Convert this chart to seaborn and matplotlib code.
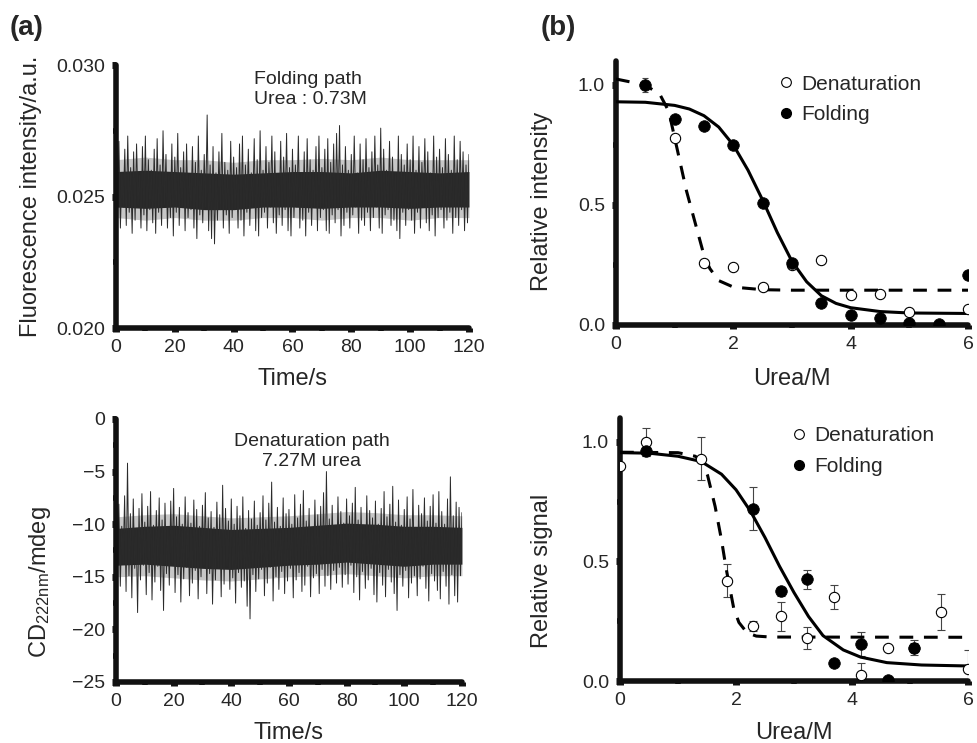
import numpy as np
import matplotlib.pyplot as plt
import seaborn as sns
from matplotlib.lines import Line2D
from matplotlib.ticker import FormatStrFormatter, MultipleLocator

# ---------------- (a) raw traces ----------------
# spikes read roughly once per second: upper / lower excursion of the trace
time_s = np.arange(0, 121)
band_t = np.arange(0, 121, 10)

# fluorescence, in units of 1e-3 a.u.
fl_hi = [26.3, 27.1, 25.9, 26.8, 27.3, 26.1, 26.7, 27.0, 25.8, 26.9,
         27.3, 26.4, 26.0, 26.8, 27.2, 26.2, 27.5, 26.6, 25.9, 27.0,
         26.5, 27.4, 26.1, 26.7, 27.0, 25.8, 26.9, 26.3, 27.3, 26.0,
         26.6, 28.1, 26.2, 26.9, 25.9, 26.7, 27.4, 26.3, 26.0, 27.1,
         26.5, 26.1, 27.0, 27.3, 26.2, 26.8, 25.9, 27.2, 26.4, 27.5,
         26.0, 26.9, 26.3, 27.3, 26.7, 25.8, 27.1, 26.5, 27.4, 26.1,
         26.8, 26.2, 27.3, 25.9, 26.7, 27.2, 26.4, 26.0, 26.9, 27.3,
         26.1, 26.8, 27.2, 26.3, 27.0, 27.4, 27.7, 26.2, 26.9, 26.0,
         26.6, 27.3, 25.9, 27.0, 26.4, 27.2, 26.1, 26.7, 27.3, 26.2,
         27.6, 26.8, 26.0, 27.1, 26.5, 25.9, 27.3, 26.6, 26.2, 27.0,
         26.4, 27.3, 26.0, 26.9, 26.3, 27.2, 26.7, 25.9, 27.3, 26.5,
         26.8, 26.1, 27.2, 26.6, 26.0, 27.3, 26.4, 27.1, 26.7, 26.2,
         26.6]
fl_lo = [24.3, 23.8, 24.6, 23.9, 24.4, 23.6, 24.1, 24.7, 23.8, 24.3,
         23.7, 24.5, 24.0, 23.6, 24.4, 23.9, 24.7, 23.8, 24.2, 23.5,
         24.4, 23.9, 24.6, 23.7, 24.2, 24.5, 23.8, 23.4, 24.3, 24.0,
         24.6, 23.7, 23.4, 23.2, 24.1, 24.5, 23.8, 24.3, 23.6, 24.2,
         24.5, 23.8, 24.1, 23.5, 24.4, 23.9, 24.6, 23.7, 23.5, 24.2,
         24.4, 23.8, 24.6, 24.0, 23.6, 24.3, 23.9, 24.5, 23.7, 23.5,
         24.2, 24.6, 23.8, 24.1, 23.5, 24.4, 23.9, 24.6, 23.7, 24.2,
         24.5, 23.7, 23.6, 24.3, 24.0, 24.5, 23.5, 23.9, 24.4, 23.8,
         24.3, 24.6, 23.6, 24.1, 23.9, 24.4, 23.7, 24.2, 24.6, 23.8,
         23.6, 24.3, 24.5, 23.9, 24.1, 23.7, 23.4, 24.4, 23.9, 24.5,
         24.1, 23.6, 24.4, 23.8, 24.6, 24.0, 23.7, 24.3, 23.5, 24.2,
         24.5, 23.8, 24.1, 24.4, 23.6, 24.2, 23.9, 24.5, 23.7, 24.0,
         24.3]
# dense black core and the grey fringe around it, every 10 s
fl_core_hi = [25.95, 26.0, 25.95, 25.9, 25.85, 25.9, 25.95, 25.95, 25.9, 26.0, 25.95, 25.9, 25.95]
fl_core_lo = [24.6, 24.55, 24.6, 24.5, 24.5, 24.6, 24.6, 24.55, 24.6, 24.6, 24.55, 24.6, 24.6]
fl_fringe_hi = [26.4, 26.5, 26.4, 26.4, 26.3, 26.4, 26.4, 26.45, 26.4, 26.5, 26.4, 26.4, 26.4]
fl_fringe_lo = [24.2, 24.1, 24.2, 24.1, 24.1, 24.2, 24.2, 24.1, 24.2, 24.2, 24.1, 24.2, 24.2]

# CD at 222 nm, mdeg
cd_hi = [-9.5, -8.1, -10.2, -7.3, -4.2, -9.0, -7.6, -10.4, -8.5, -7.1,
         -9.8, -8.3, -6.9, -10.1, -8.7, -7.5, -9.6, -8.0, -10.3, -7.8,
         -6.6, -9.3, -8.4, -10.0, -7.4, -8.9, -9.9, -7.7, -8.6, -10.2,
         -8.2, -7.0, -9.4, -8.8, -10.3, -7.9, -9.1, -6.3, -8.5, -9.7,
         -7.6, -10.0, -8.3, -9.2, -7.4, -10.4, -8.7, -9.5, -7.8, -10.1,
         -8.9, -7.3, -9.6, -8.0, -6.0, -9.8, -8.4, -10.2, -7.5, -9.0,
         -8.6, -10.0, -7.2, -9.4, -8.1, -6.8, -9.7, -8.5, -10.3, -7.7,
         -9.1, -8.3, -7.0, -5.0, -9.5, -8.2, -10.1, -7.4, -8.8, -9.9,
         -7.6, -9.2, -8.0, -6.5, -9.6, -8.4, -10.2, -7.3, -8.7, -9.4,
         -7.8, -10.0, -8.5, -6.9, -9.3, -8.1, -6.4, -9.8, -7.7, -10.1,
         -8.6, -7.4, -9.5, -6.7, -10.3, -8.2, -9.0, -7.5, -9.7, -8.3,
         -7.2, -9.9, -6.9, -8.8, -10.0, -7.6, -5.5, -9.2, -7.9, -8.4,
         -8.9]
cd_lo = [-14.5, -15.9, -13.8, -16.4, -14.9, -17.0, -14.2, -18.4, -15.3, -13.9,
         -16.7, -14.6, -17.2, -15.5, -14.0, -16.3, -18.2, -14.7, -15.8, -13.7,
         -16.5, -14.8, -17.4, -15.2, -14.1, -16.8, -15.6, -14.4, -17.1, -15.0,
         -13.9, -16.6, -14.7, -17.6, -15.3, -14.2, -16.9, -15.7, -14.0, -16.2,
         -15.1, -17.5, -14.6, -16.0, -15.4, -17.8, -19.0, -14.8, -16.4, -15.2,
         -14.3, -16.8, -15.6, -14.1, -17.3, -15.0, -16.2, -14.5, -16.6, -15.4,
         -14.2, -17.0, -15.3, -14.6, -16.4, -15.8, -14.0, -16.9, -15.1, -14.7,
         -16.6, -14.3, -15.9, -14.9, -16.2, -14.4, -15.6, -14.1, -16.0, -14.8,
         -15.7, -13.9, -16.5, -15.0, -17.2, -14.5, -16.1, -15.3, -14.2, -16.7,
         -17.4, -14.6, -15.8, -16.9, -14.3, -15.5, -16.6, -18.2, -14.8, -15.9,
         -14.4, -17.0, -15.6, -14.9, -16.8, -15.2, -14.0, -16.1, -17.3, -14.7,
         -15.4, -16.3, -17.1, -14.5, -15.9, -17.6, -14.8, -16.8, -17.4, -14.9,
         -15.0]
cd_core_hi = [-10.4, -10.2, -10.1, -10.3, -10.5, -10.4, -10.3, -10.1, -9.9, -10.0, -10.2, -10.2, -10.3]
cd_core_lo = [-13.9, -13.8, -14.0, -14.2, -14.3, -14.1, -13.9, -13.8, -13.6, -13.8, -14.0, -13.8, -13.8]
cd_fringe_hi = [-9.3, -9.1, -9.0, -9.2, -9.4, -9.3, -9.2, -9.0, -8.8, -8.9, -9.1, -9.1, -9.2]
cd_fringe_lo = [-15.0, -14.9, -15.1, -15.3, -15.4, -15.2, -15.0, -14.9, -14.7, -14.9, -15.1, -14.9, -14.9]

# ---------------- (b) transition curves ----------------
# relative fluorescence intensity
int_fold_x = [0.5, 1.0, 1.5, 2.0, 2.5, 3.0, 3.5, 4.0, 4.5, 5.0, 5.5, 6.0]
int_fold_y = [1.0, 0.86, 0.83, 0.75, 0.51, 0.26, 0.09, 0.04, 0.03, 0.01, 0.005, 0.21]
int_fold_err = [0.03, 0.01, 0.01, 0.01, 0.01, 0.01, 0.01, 0.01, 0.01, 0.01, 0.01, 0.01]
int_den_x = [1.0, 1.5, 2.0, 2.5, 3.0, 3.5, 4.0, 4.5, 5.0, 6.0]
int_den_y = [0.78, 0.26, 0.24, 0.16, 0.25, 0.27, 0.125, 0.13, 0.055, 0.065]
int_den_err = [0.015, 0.015, 0.015, 0.015, 0.015, 0.015, 0.015, 0.015, 0.015, 0.015]
# fitted curves, points
int_fold_fit_x = [0, 0.5, 1.0, 1.25, 1.5, 1.75, 2.0, 2.25, 2.5, 2.75, 3.0, 3.25, 3.5, 3.75, 4.0, 4.5, 5.0, 5.5, 6.0]
int_fold_fit_y = [0.93, 0.928, 0.915, 0.90, 0.872, 0.825, 0.75, 0.645, 0.52, 0.385, 0.265, 0.18, 0.122, 0.09,
                  0.072, 0.056, 0.05, 0.049, 0.048]
int_den_fit_x = [0, 0.5, 0.75, 0.9, 1.0, 1.1, 1.2, 1.3, 1.4, 1.5, 1.6, 1.75, 2.0, 2.5, 3.0, 6.0]
int_den_fit_y = [1.025, 1.0, 0.96, 0.89, 0.78, 0.67, 0.56, 0.47, 0.38, 0.29, 0.235, 0.185, 0.158, 0.147, 0.145, 0.145]

# relative CD signal
sig_den_x = [0.0, 0.45, 1.4, 1.84, 2.3, 2.77, 3.22, 3.69, 4.15, 4.62, 5.07, 5.53, 6.0]
sig_den_y = [0.90, 1.0, 0.93, 0.42, 0.23, 0.27, 0.18, 0.35, 0.025, 0.14, 0.14, 0.29, 0.05]
sig_den_err = [0.0, 0.06, 0.09, 0.07, 0.02, 0.06, 0.045, 0.05, 0.05, 0.0, 0.02, 0.075, 0.08]
sig_fold_x = [0.45, 2.29, 2.77, 3.22, 3.69, 4.15, 4.62, 5.07]
sig_fold_y = [0.96, 0.72, 0.375, 0.425, 0.075, 0.155, 0.005, 0.14]
sig_fold_err = [0.02, 0.09, 0.02, 0.04, 0.0, 0.05, 0.0, 0.03]
sig_fold_fit_x = [0, 0.5, 1.0, 1.4, 1.75, 2.0, 2.25, 2.5, 2.75, 3.0, 3.25, 3.5, 3.85, 4.15, 4.6, 5.2, 6.0]
sig_fold_fit_y = [0.955, 0.953, 0.94, 0.918, 0.865, 0.80, 0.71, 0.60, 0.48, 0.37, 0.27, 0.19, 0.13, 0.10,
                  0.077, 0.067, 0.063]
sig_den_fit_x = [0, 1.0, 1.3, 1.42, 1.51, 1.64, 1.75, 1.83, 1.96, 2.05, 2.19, 2.35, 2.6, 6.0]
sig_den_fit_y = [0.957, 0.955, 0.94, 0.91, 0.86, 0.73, 0.59, 0.47, 0.305, 0.245, 0.202, 0.188, 0.184, 0.183]

sns.set_style("ticks")
plt.rcParams['font.family'] = ['Liberation Sans', 'DejaVu Sans']
plt.rcParams['mathtext.default'] = 'regular'

TICK_FS = 14
LABEL_FS = 17

fig = plt.figure(figsize=(9.77, 7.43), dpi=100)
ax_fl = fig.add_axes([0.1187, 0.5585, 0.3613, 0.354])
ax_cd = fig.add_axes([0.1187, 0.0821, 0.3541, 0.354])
ax_int = fig.add_axes([0.6305, 0.5626, 0.3603, 0.3553])
ax_sig = fig.add_axes([0.6346, 0.0834, 0.3562, 0.354])


def style_axes(ax, xmaj, xmin, ymaj, ymin):
    for side in ["top", "right"]:
        ax.spines[side].set_visible(False)
    for side in ["left", "bottom"]:
        ax.spines[side].set_linewidth(4)
        ax.spines[side].set_capstyle("round")
        ax.spines[side].set_color("#111111")
    ax.xaxis.set_major_locator(MultipleLocator(xmaj))
    ax.xaxis.set_minor_locator(MultipleLocator(xmin))
    ax.yaxis.set_major_locator(MultipleLocator(ymaj))
    ax.yaxis.set_minor_locator(MultipleLocator(ymin))
    ax.tick_params(which="major", length=3, width=5, color="#111111",
                   labelsize=TICK_FS, pad=5)
    ax.tick_params(which="minor", length=2.5, width=4, color="#111111")


def noise_trace(ax, hi, lo, core_hi, core_lo, fringe_hi, fringe_lo, scale=1.0):
    zz_t = np.column_stack([time_s, time_s + 0.5]).ravel()
    zz_y = np.column_stack([hi, lo]).ravel() * scale
    ax.fill_between(band_t, np.array(fringe_lo) * scale, np.array(fringe_hi) * scale,
                    color="black", linewidth=0, alpha=0.22)
    ax.fill_between(band_t, np.array(core_lo) * scale, np.array(core_hi) * scale,
                    color="black", linewidth=0, alpha=0.8)
    sns.lineplot(x=zz_t, y=zz_y, ax=ax, sort=False, estimator=None,
                 color="#2b2b2b", linewidth=0.7)


# ---- (a) top: fluorescence ----
noise_trace(ax_fl, fl_hi, fl_lo, fl_core_hi, fl_core_lo, fl_fringe_hi, fl_fringe_lo, scale=1e-3)
ax_fl.set_xlim(0, 120)
ax_fl.set_ylim(0.020, 0.030)
style_axes(ax_fl, 20, 10, 0.005, 0.0025)
ax_fl.yaxis.set_major_formatter(FormatStrFormatter("%.3f"))
ax_fl.set_xlabel("Time/s", fontsize=LABEL_FS)
ax_fl.set_ylabel("Fluorescence intensity/a.u.", fontsize=LABEL_FS)
ax_fl.xaxis.set_label_coords(0.5, -0.152)
ax_fl.yaxis.set_label_coords(-0.21, 0.5)
ax_fl.text(0.55, 0.907, "Folding path\nUrea : 0.73M", transform=ax_fl.transAxes,
           ha="center", va="center", fontsize=14, multialignment="left")

# ---- (a) bottom: CD ----
noise_trace(ax_cd, cd_hi, cd_lo, cd_core_hi, cd_core_lo, cd_fringe_hi, cd_fringe_lo)
ax_cd.set_xlim(0, 120)
ax_cd.set_ylim(-25, 0)
style_axes(ax_cd, 20, 10, 5, 2.5)
ax_cd.set_xlabel("Time/s", fontsize=LABEL_FS)
ax_cd.set_ylabel(r"CD$_{222nm}$/mdeg", fontsize=LABEL_FS)
ax_cd.xaxis.set_label_coords(0.5, -0.152)
ax_cd.yaxis.set_label_coords(-0.182, 0.38)
ax_cd.text(0.566, 0.876, "Denaturation path\n7.27M urea", transform=ax_cd.transAxes,
           ha="center", va="center", fontsize=14, multialignment="center")


def transition(ax, den_x, den_y, den_err, fold_x, fold_y, fold_err,
               den_fit_x, den_fit_y, fold_fit_x, fold_fit_y, capsize):
    ax.errorbar(den_x, den_y, yerr=den_err, fmt="none", ecolor="#444444",
                elinewidth=0.8, capsize=capsize, capthick=0.8, zorder=2)
    ax.errorbar(fold_x, fold_y, yerr=fold_err, fmt="none", ecolor="#444444",
                elinewidth=0.8, capsize=capsize, capthick=0.8, zorder=2)
    sns.lineplot(x=fold_fit_x, y=fold_fit_y, ax=ax, sort=False, estimator=None,
                 color="black", linewidth=2.2, zorder=3)
    sns.lineplot(x=den_fit_x, y=den_fit_y, ax=ax, sort=False, estimator=None,
                 color="black", linewidth=2.2, linestyle=(0, (4.5, 3.5)), zorder=3)
    sns.scatterplot(x=den_x, y=den_y, ax=ax, s=55, color="white",
                    edgecolor="black", linewidth=0.8, zorder=4)
    sns.scatterplot(x=fold_x, y=fold_y, ax=ax, s=70, color="black",
                    edgecolor="black", linewidth=0.5, zorder=5)
    ax.set_xlim(0, 6)
    ax.set_ylim(0, 1.1)
    style_axes(ax, 2, 1, 0.5, 0.25)
    ax.yaxis.set_major_formatter(FormatStrFormatter("%.1f"))
    ax.set_xlabel("Urea/M", fontsize=LABEL_FS)
    handles = [Line2D([], [], marker="o", ls="", mfc="white", mec="black", mew=0.8, ms=7),
               Line2D([], [], marker="o", ls="", mfc="black", mec="black", ms=7)]
    return handles


h = transition(ax_int, int_den_x, int_den_y, int_den_err, int_fold_x, int_fold_y, int_fold_err,
               int_den_fit_x, int_den_fit_y, int_fold_fit_x, int_fold_fit_y, capsize=2.5)
ax_int.set_ylabel("Relative intensity", fontsize=LABEL_FS)
ax_int.xaxis.set_label_coords(0.5, -0.163)
ax_int.yaxis.set_label_coords(-0.179, 0.47)
ax_int.legend(h, ["Denaturation", "Folding"], loc="upper left", bbox_to_anchor=(0.425, 0.98),
              frameon=False, fontsize=15, handletextpad=0.1, handlelength=1.2,
              labelspacing=0.55, borderaxespad=0)

h = transition(ax_sig, sig_den_x, sig_den_y, sig_den_err, sig_fold_x, sig_fold_y, sig_fold_err,
               sig_den_fit_x, sig_den_fit_y, sig_fold_fit_x, sig_fold_fit_y, capsize=3)
ax_sig.set_ylabel("Relative signal", fontsize=LABEL_FS)
ax_sig.xaxis.set_label_coords(0.5, -0.155)
ax_sig.yaxis.set_label_coords(-0.193, 0.42)
ax_sig.legend(h, ["Denaturation", "Folding"], loc="upper left", bbox_to_anchor=(0.455, 1.0),
              frameon=False, fontsize=15, handletextpad=0.1, handlelength=1.2,
              labelspacing=0.55, borderaxespad=0)

fig.text(10 / 977, 1 - 28 / 743, "(a)", fontsize=20, fontweight="bold", va="center")
fig.text(541 / 977, 1 - 28 / 743, "(b)", fontsize=20, fontweight="bold", va="center")

fig.savefig("out.png", dpi=100)
